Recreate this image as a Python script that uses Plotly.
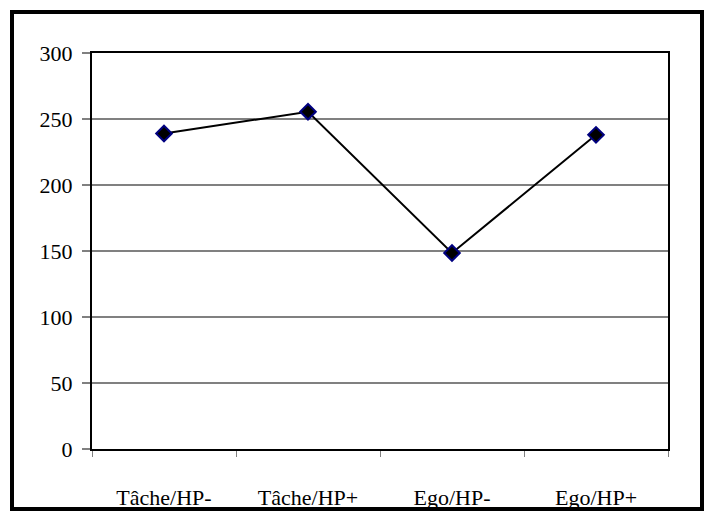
import plotly.graph_objects as go

# Chart data
categories = ["Tâche/HP-", "Tâche/HP+", "Ego/HP-", "Ego/HP+"]
values = [239, 255.5, 148.5, 238]
y_ticks = [0, 50, 100, 150, 200, 250, 300]

W, H = 712, 520
L, R, T, B = 92, 44, 53, 71
pw, ph = W - L - R, H - T - B

def px_x(p):
    return (p - L) / pw

def px_y(p):
    return (H - B - p) / ph

fig = go.Figure()
fig.add_trace(go.Scatter(
    x=categories, y=values, mode="lines+markers",
    line=dict(color="black", width=2),
    marker=dict(symbol="diamond", size=12, color="black",
                line=dict(color="#000080", width=2)),
    showlegend=False, cliponaxis=False,
))

# outer frame around the whole chart
fig.add_shape(type="rect", xref="paper", yref="paper",
              x0=px_x(12), x1=px_x(702), y0=px_y(509), y1=px_y(12),
              line=dict(color="black", width=4), fillcolor="rgba(0,0,0,0)",
              layer="above")

font = dict(family="Liberation Serif", size=22, color="black", weight="normal")

fig.update_layout(
    width=W, height=H,
    margin=dict(l=L, r=R, t=T, b=B, autoexpand=False),
    paper_bgcolor="white", plot_bgcolor="white",
    font=font,
    xaxis=dict(
        type="category", range=[-0.5, 3.5], automargin=False,
        showline=True, linecolor="black", linewidth=2, mirror=True,
        showgrid=False, zeroline=False,
        ticks="outside", tickson="boundaries", ticklen=6, tickcolor="#808080", tickwidth=1,
        ticklabelstandoff=28, tickfont=font,
    ),
    yaxis=dict(
        range=[0, 300], tickvals=y_ticks, automargin=False,
        showline=True, linecolor="black", linewidth=2, mirror=True,
        showgrid=True, gridcolor="#808080", gridwidth=1.5, zeroline=False,
        ticks="outside", ticklen=8, tickcolor="#808080", tickwidth=1.5,
        ticklabelstandoff=5, tickfont=font,
    ),
)

fig.write_html("out.html")
